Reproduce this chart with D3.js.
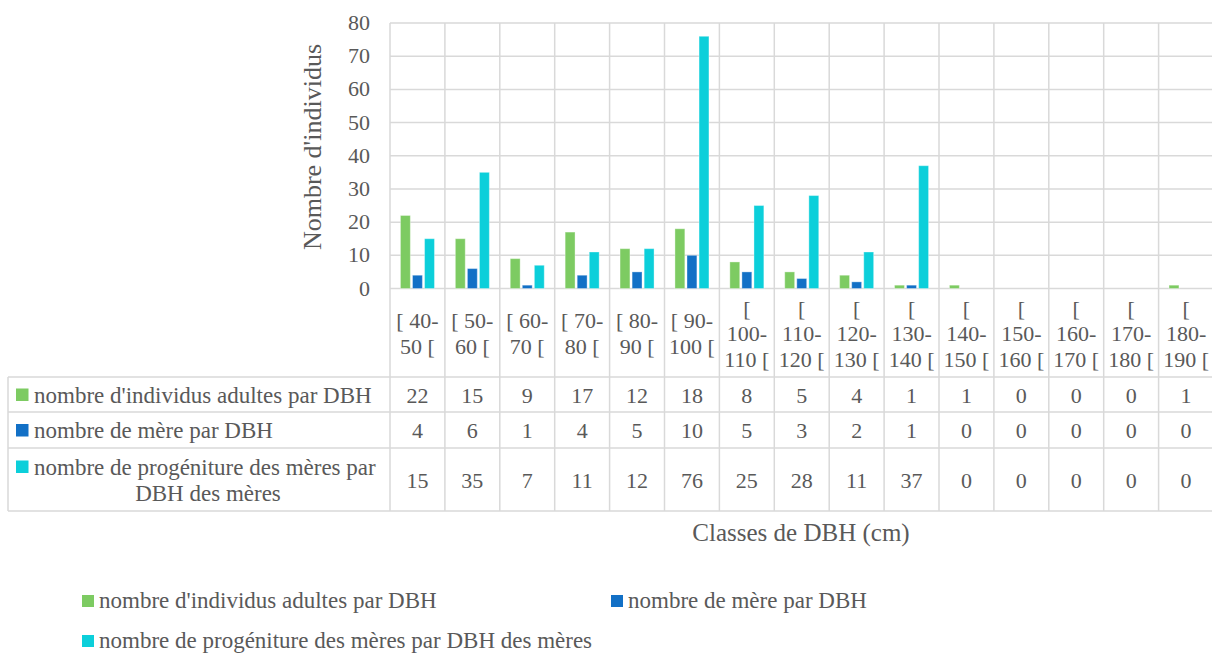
<!DOCTYPE html>
<html>
<head>
<meta charset="UTF-8">
<script src="https://d3js.org/d3.v7.min.js"></script>
</head>
<body style="margin:0">
<script>
    // data
    const categories = ["[ 40-50 [", "[ 50-60 [", "[ 60-70 [", "[ 70-80 [", "[ 80-90 [",
        "[ 90-100 [", "[ 100-110 [", "[ 110-120 [", "[ 120-130 [", "[ 130-140 [",
        "[ 140-150 [", "[ 150-160 [", "[ 160-170 [", "[ 170-180 [", "[ 180-190 ["]
    const adultes = [22, 15, 9, 17, 12, 18, 8, 5, 4, 1, 1, 0, 0, 0, 1]
    const meres = [4, 6, 1, 4, 5, 10, 5, 3, 2, 1, 0, 0, 0, 0, 0]
    const progeniture = [15, 35, 7, 11, 12, 76, 25, 28, 11, 37, 0, 0, 0, 0, 0]
    const seriesNames = ["nombre d'individus adultes par DBH", "nombre de mère par DBH",
        "nombre de progéniture des mères par DBH des mères"]
    const seriesColors = ["#7dcb62", "#1270c6", "#0ccfda"]
    const yTicks = [0, 10, 20, 30, 40, 50, 60, 70, 80]

    const series = [adultes, meres, progeniture]

    const FONT = "Liberation Serif"
    const TXT = "#595959"

    const width = 1212
    const height = 655
    const svg = d3.select("body").append("svg")
        .attr("width", width).attr("height", height)
        .style("display", "block")

    // every text gets the font set on itself
    function txt(sel, size) {
        return sel.append("text").attr("font-family", FONT).attr("font-size", size).attr("fill", TXT)
    }

    const gridColor = "#d9d9d9"
    const left = 390, right = 1213.5
    const tableLeft = 8
    // table row borders: categories, series 1..3
    const rowY = [289, 377, 412, 448, 511]

    const x = d3.scaleBand().domain(categories).range([left, right])
    const xSub = d3.scaleBand().domain([0, 1, 2]).range([-17, 17]).paddingInner(0.18)
    const y = d3.scaleLinear().domain([0, 80]).range([288.5, 23])

    // horizontal gridlines
    svg.append("g").selectAll("line").data(yTicks).enter().append("line")
        .attr("x1", left).attr("x2", right)
        .attr("y1", d => y(d)).attr("y2", d => y(d))
        .attr("stroke", gridColor).attr("stroke-width", 1.5)

    // vertical lines (plot + table)
    const bounds = categories.map(c => x(c)).concat([right])
    svg.append("g").selectAll("line").data(bounds).enter().append("line")
        .attr("x1", d => d).attr("x2", d => d)
        .attr("y1", y(80)).attr("y2", rowY[4])
        .attr("stroke", gridColor).attr("stroke-width", 1.5)

    // table horizontal lines
    svg.append("g").selectAll("line").data(rowY.slice(1)).enter().append("line")
        .attr("x1", tableLeft).attr("x2", right)
        .attr("y1", d => d).attr("y2", d => d)
        .attr("stroke", gridColor).attr("stroke-width", 1.5)
    svg.append("line")
        .attr("x1", tableLeft).attr("x2", tableLeft)
        .attr("y1", rowY[1]).attr("y2", rowY[4])
        .attr("stroke", gridColor).attr("stroke-width", 1.5)

    // bars
    const gBars = svg.append("g")
    series.forEach((vals, s) => {
        gBars.selectAll(".s" + s).data(vals).enter().append("rect")
            .attr("class", "s" + s)
            .attr("x", (d, i) => x(categories[i]) + x.bandwidth() / 2 + xSub(s))
            .attr("width", xSub.bandwidth())
            .attr("y", d => y(d))
            .attr("height", d => y(0) - y(d))
            .attr("fill", seriesColors[s])
            .attr("stroke", "rgba(255,255,255,0.35)")
            .attr("stroke-width", d => d > 0 ? 1 : 0)
    })

    // y axis tick labels
    const gTicks = svg.append("g")
    yTicks.forEach(v => {
        txt(gTicks, 22).attr("x", 370).attr("y", y(v) + 7)
            .attr("text-anchor", "end").text(v)
    })

    // axis titles
    txt(svg, 26)
        .attr("transform", "translate(321,147) rotate(-90)")
        .attr("text-anchor", "middle")
        .text("Nombre d'individus")
    txt(svg, 25)
        .attr("x", 801).attr("y", 541)
        .attr("text-anchor", "middle")
        .text("Classes de DBH (cm)")

    // category labels, wrapped to column width
    const tableFont = 22
    const labelFont = 23
    const catG = svg.append("g")
    categories.forEach(c => {
        const tokens = c.replace(/-/g, "- ").split(/\s+/).filter(t => t.length)
        const t = txt(catG, tableFont).attr("text-anchor", "middle")
        const lines = []
        let cur = ""
        tokens.forEach(tok => {
            const cand = cur === "" ? tok : (cur.endsWith("-") ? cur + tok : cur + " " + tok)
            t.text(cand)
            if (cur !== "" && t.node().getComputedTextLength() > 50) {
                lines.push(cur)
                cur = tok
            } else {
                cur = cand
            }
        })
        lines.push(cur)
        t.text(null)
        const lh = 25.5
        const mid = (rowY[0] + rowY[1]) / 2
        const y0 = mid - (lines.length - 1) * lh / 2 + 8
        lines.forEach((l, i) => {
            t.append("tspan").attr("x", x(c) + x.bandwidth() / 2)
                .attr("y", y0 + i * lh).text(l)
        })
    })

    // table values
    series.forEach((vals, s) => {
        const mid = (rowY[s + 1] + rowY[s + 2]) / 2
        const g = svg.append("g")
        vals.forEach((v, i) => {
            txt(g, tableFont)
                .attr("x", x(categories[i]) + x.bandwidth() / 2)
                .attr("y", mid + 8)
                .attr("text-anchor", "middle")
                .text(v)
        })
    })

    // series labels in table, swatch + left aligned text, wrapped lines centred
    const rowLabelLines = [[seriesNames[0]], [seriesNames[1]],
        ["nombre de progéniture des mères par", "DBH des mères"]]
    rowLabelLines.forEach((lines, s) => {
        const mid = (rowY[s + 1] + rowY[s + 2]) / 2
        const lh = 26
        const top = mid - (lines.length - 1) * lh / 2
        const g = svg.append("g")
        g.append("rect").attr("x", 16).attr("y", top - 6).attr("width", 12.5).attr("height", 12.5)
            .attr("fill", seriesColors[s])
        txt(g, labelFont).attr("x", 34).attr("y", top + 8).text(lines[0])
        lines.slice(1).forEach((l, i) => {
            txt(g, labelFont).attr("x", 208).attr("y", top + 8 + (i + 1) * lh)
                .attr("text-anchor", "middle").text(l)
        })
    })

    // legend
    const legendPos = [[82, 601], [611, 601], [82, 641]]
    const leg = svg.append("g")
    seriesNames.forEach((n, s) => {
        const [lx, ly] = legendPos[s]
        leg.append("rect").attr("x", lx).attr("y", ly - 6).attr("width", 12).attr("height", 12)
            .attr("fill", seriesColors[s])
        txt(leg, labelFont).attr("x", lx + 17).attr("y", ly + 7).text(n)
    })
</script>
</body>
</html>
